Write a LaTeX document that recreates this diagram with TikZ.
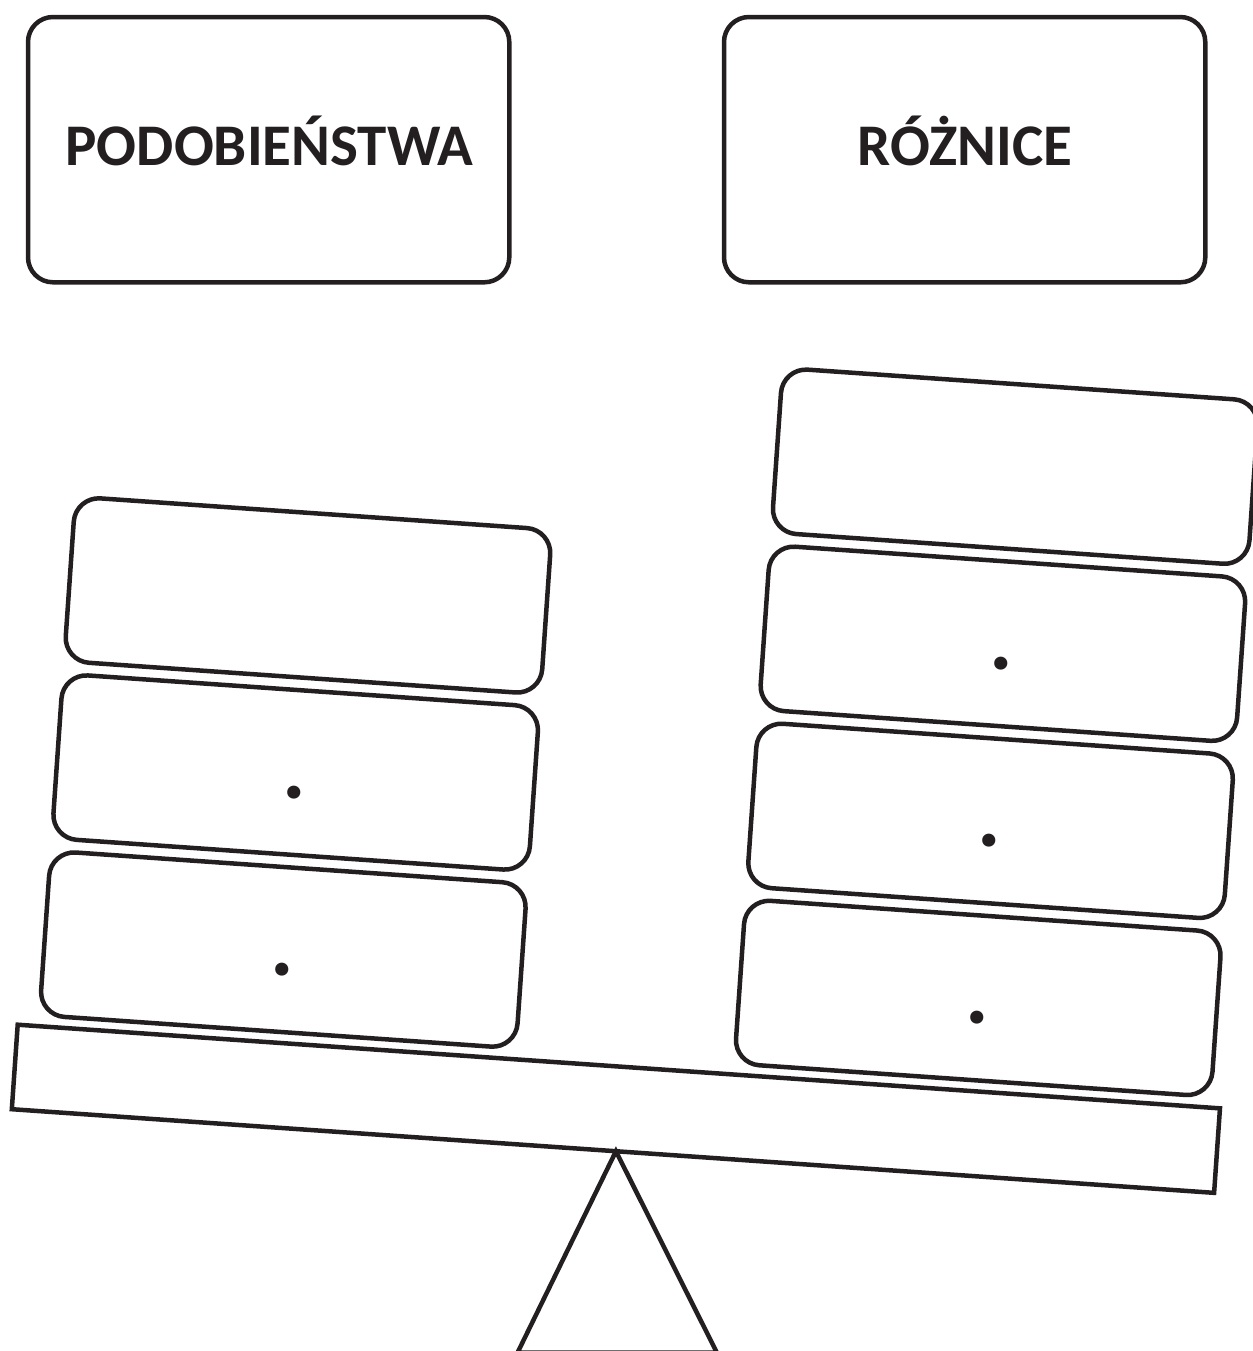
\documentclass[tikz,border=0pt]{standalone}
\usepackage{fontspec}
\setmainfont{Carlito}
\definecolor{ink}{RGB}{35,31,32}
\begin{document}
\begin{tikzpicture}[x=0.5pt,y=-0.5pt,color=ink,line width=2.25pt,
  titlebox/.style={draw=ink, rounded corners=12.5pt, minimum width=240.65pt, minimum height=132.65pt, inner sep=0pt},
  slab/.style={draw=ink, rounded corners=12.5pt, minimum width=238.8pt, minimum height=82.4pt, inner sep=0pt, transform shape},
  beamstyle/.style={draw=ink, sharp corners, minimum width=602.6pt, minimum height=42.35pt, inner sep=0pt, transform shape},
  titletext/.style={font=\fontsize{29.5}{35}\selectfont\bfseries, text=ink, inner sep=0pt, anchor=base},
  dotmark/.style={font=\fontsize{44}{50}\selectfont\bfseries, text=ink, inner sep=0pt}]
\useasboundingbox (0,0) rectangle (1253,1351);
\clip (0,0) rectangle (1253,1351);
% title boxes
\node[titlebox] (simbox) at (268.65,149.65) {};
\node[titlebox] (difbox) at (964.65,149.65) {};
\node[titletext] (simtext) at (269.5,165.5) {PODOBIEŃSTWA};
\node[titletext] (diftext) at (965.1,165.5) {RÓŻNICE};
% tilted scale
\begin{scope}[shift={(17.7,1024.7)},rotate=-3.98]
  \node[beamstyle] (beam) at (602.6,42.35) {};
  \coordinate (apex) at (605.6,84.7);
  % left stack
  \node[slab] (l1) at (259.8,-448.4) {};
  \node[slab] (l2) at (259.8,-270.9) {};
  \node[slab] (l3) at (259.8,-93.4) {};
  \node[dotmark] (l2dot) at (259.8,-251.2) {.};
  \node[dotmark] (l3dot) at (259.8,-73.7) {.};
  % right stack
  \node[slab] (r1) at (956.4,-625.9) {};
  \node[slab] (r2) at (956.4,-448.4) {};
  \node[slab] (r3) at (956.4,-270.9) {};
  \node[slab] (r4) at (956.4,-93.4) {};
  \node[dotmark] (r2dot) at (956.4,-428.7) {.};
  \node[dotmark] (r3dot) at (956.4,-251.2) {.};
  \node[dotmark] (r4dot) at (956.4,-73.7) {.};
\end{scope}
% fulcrum
\coordinate (baseL) at (517.5,1352.7);
\coordinate (baseR) at (716.9,1352.7);
\draw[line join=miter] (baseL) -- (apex) -- (baseR) -- cycle;
\end{tikzpicture}
\end{document}
